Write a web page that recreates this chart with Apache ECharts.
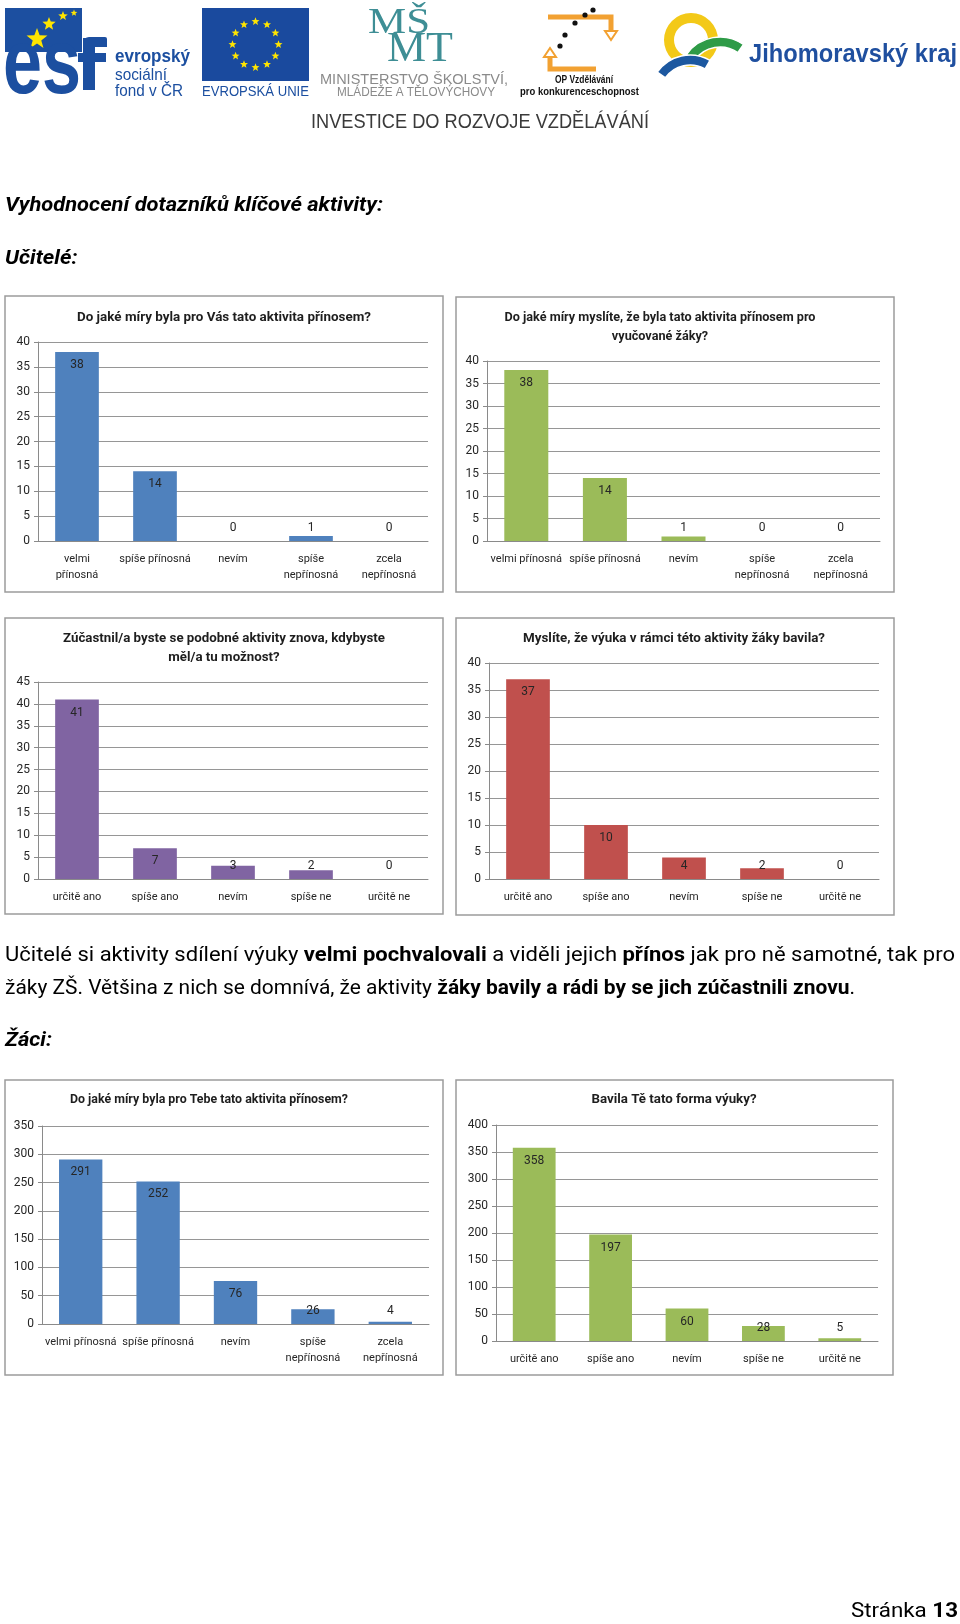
<!DOCTYPE html>
<html><head><meta charset="utf-8">
<script src="https://cdn.jsdelivr.net/npm/echarts@6.0.0/dist/echarts.min.js"></script>
<style>html,body{margin:0;padding:0;background:#fff}#c{width:960px;height:1624px}</style>
</head><body><div id="c"></div><script>
// ---------- DATA ----------
const catsRate1 = ['velmi\npřínosná', 'spíše přínosná', 'nevím', 'spíše\nnepřínosná', 'zcela\nnepřínosná'];
const catsRate2 = ['velmi přínosná', 'spíše přínosná', 'nevím', 'spíše\nnepřínosná', 'zcela\nnepřínosná'];
const catsYesNo = ['určitě ano', 'spíše ano', 'nevím', 'spíše ne', 'určitě ne'];

const valsTeacherBenefit = [38, 14, 0, 1, 0];
const valsTeacherPupils = [38, 14, 1, 0, 0];
const valsTeacherAgain = [41, 7, 3, 2, 0];
const valsTeacherFun = [37, 10, 4, 2, 0];
const valsPupilBenefit = [291, 252, 76, 26, 4];
const valsPupilFun = [358, 197, 60, 28, 5];

const titleTeacherBenefit = ['Do jaké míry byla pro Vás tato aktivita přínosem?'];
const titleTeacherPupils = ['Do jaké míry myslíte, že byla tato aktivita přínosem pro', 'vyučované žáky?'];
const titleTeacherAgain = ['Zúčastnil/a byste se podobné aktivity znova, kdybyste', 'měl/a tu možnost?'];
const titleTeacherFun = ['Myslíte, že výuka v rámci této aktivity žáky bavila?'];
const titlePupilBenefit = ['Do jaké míry byla pro Tebe tato aktivita přínosem?'];
const titlePupilFun = ['Bavila Tě tato forma výuky?'];

const axisMax = [40, 40, 45, 40, 350, 400];
const axisStep = [5, 5, 5, 5, 50, 50];

// ---------- HELPERS ----------
const FAM = 'Roboto';
const ctx = document.createElement('canvas').getContext('2d');
function mw(text, size, weight, style, family) {
  ctx.font = (style || 'normal') + ' ' + (weight || 'normal') + ' ' + size + 'px "' + family + '"';
  return ctx.measureText(text).width;
}
function fit(text, x, y, o) {
  const fam = o.family || FAM;
  const w = mw(text, o.size, o.weight, o.style, fam);
  const s = o.scale != null ? o.scale : (o.target ? o.target / w : 1);
  return { el: { type: 'text', x: x, y: y, scaleX: s, silent: true, z: 10,
    style: { text: text, fontSize: o.size, fontWeight: o.weight || 'normal', fontStyle: o.style || 'normal',
      fontFamily: fam, fill: o.fill || '#000', align: o.align || 'left', verticalAlign: 'middle' } }, s: s };
}
function richLine(segs, x0, y, o) {
  let pen = 0; const ch = [];
  segs.forEach(function (sg) {
    const t = sg[0], b = sg[1];
    const w = mw(t, o.size, b ? 'bold' : 'normal', o.style, o.family);
    ch.push({ type: 'text', x: pen, y: 0, silent: true,
      style: { text: t, fontSize: o.size, fontWeight: b ? 'bold' : 'normal', fontStyle: o.style || 'normal',
        fontFamily: o.family, fill: o.fill || '#000', align: 'left', verticalAlign: 'middle' } });
    pen += w;
  });
  const s = o.target ? o.target / pen : (o.scale || 1);
  const gx = o.alignRight ? x0 - pen * s : x0;
  return { el: { type: 'group', x: gx, y: y, scaleX: s, z: 10, children: ch }, s: s };
}
function star(cx, cy, R, r) {
  const p = [];
  for (let i = 0; i < 10; i++) {
    const a = -Math.PI / 2 + i * Math.PI / 5, rr = i % 2 ? r : R;
    p.push([cx + rr * Math.cos(a), cy + rr * Math.sin(a)]);
  }
  return { type: 'polygon', silent: true, shape: { points: p }, style: { fill: '#ffe500' } };
}

// ---------- LAYOUT ----------
const charts = [
  { cats: catsRate1, vals: valsTeacherBenefit, title: titleTeacherBenefit, color: '#4F81BD',
    grid: { left: 38, top: 342, width: 390, height: 199 }, box: [5, 296, 438, 296], tx: 224, ty: 317, tw: 294 },
  { cats: catsRate2, vals: valsTeacherPupils, title: titleTeacherPupils, color: '#9BBB59',
    grid: { left: 487, top: 361, width: 393, height: 180 }, box: [456, 297, 438, 295], tx: 660, ty: 317, tw: 311 },
  { cats: catsYesNo, vals: valsTeacherAgain, title: titleTeacherAgain, color: '#8064A2',
    grid: { left: 38, top: 682, width: 390, height: 197 }, box: [5, 618, 438, 296], tx: 224, ty: 638, tw: 322 },
  { cats: catsYesNo, vals: valsTeacherFun, title: titleTeacherFun, color: '#C0504D',
    grid: { left: 489, top: 663, width: 390, height: 216 }, box: [456, 618, 438, 297], tx: 674, ty: 638, tw: 302 },
  { cats: catsRate2, vals: valsPupilBenefit, title: titlePupilBenefit, color: '#4F81BD',
    grid: { left: 42, top: 1126, width: 387, height: 198 }, box: [5, 1080, 438, 295], tx: 209, ty: 1099, tw: 278 },
  { cats: catsYesNo, vals: valsPupilFun, title: titlePupilFun, color: '#9BBB59',
    grid: { left: 496, top: 1125, width: 382, height: 216 }, box: [456, 1080, 437, 295], tx: 674, ty: 1099, tw: 165 }
];

const grids = [], xAxes = [], yAxes = [], series = [], graphics = [];
const txt = '#262626';
charts.forEach(function (c, i) {
  grids.push(Object.assign({ containLabel: false }, c.grid));
  xAxes.push({ type: 'category', gridIndex: i, data: c.cats,
    axisLine: { lineStyle: { color: '#8a8a8a', width: 1 } }, axisTick: { show: false },
    axisLabel: { interval: 0, fontSize: 11, fontFamily: FAM, color: txt, margin: 10, lineHeight: 16 } });
  yAxes.push({ type: 'value', gridIndex: i, min: 0, max: axisMax[i], interval: axisStep[i],
    axisLine: { show: true, lineStyle: { color: '#8a8a8a', width: 1 } },
    axisTick: { show: true, length: 4, lineStyle: { color: '#8a8a8a' } },
    axisLabel: { fontSize: 12, fontFamily: FAM, color: txt, margin: 8 },
    splitLine: { lineStyle: { color: '#969696', width: 1 } } });
  const gh = c.grid.height, mx = axisMax[i];
  series.push({ type: 'bar', xAxisIndex: i, yAxisIndex: i, barWidth: '56%',
    itemStyle: { color: c.color },
    label: { show: true, fontSize: 12, fontFamily: FAM, color: txt },
    data: c.vals.map(function (v) {
      const tall = v / mx * gh >= 28;
      return { value: v, label: tall ? { position: 'insideTop', distance: 7 } : { position: 'insideBottom', distance: 7 } };
    }) });
  graphics.push({ type: 'rect', silent: true, shape: { x: c.box[0], y: c.box[1], width: c.box[2], height: c.box[3] },
    style: { fill: 'none', stroke: '#9c9c9c', lineWidth: 1.5 } });
  const t1 = fit(c.title[0], c.tx, c.ty + 1, { size: 13, weight: 'bold', target: c.tw, align: 'center', fill: '#1e1e1e' });
  graphics.push(t1.el);
  if (c.title[1]) graphics.push(fit(c.title[1], c.tx, c.ty + 20, { size: 13, weight: 'bold', scale: t1.s, align: 'center', fill: '#1e1e1e' }).el);
});

// ---------- HEADER LOGOS ----------
const esfBlue = '#1c4fa0';
graphics.push({ type: 'rect', silent: true, shape: { x: 5, y: 8, width: 77, height: 44 }, style: { fill: esfBlue } });
graphics.push(fit('es', 3, 68, { size: 92, weight: 'bold', family: 'Liberation Sans', target: 78, fill: esfBlue }).el);
graphics.push({ type: 'rect', silent: true, shape: { x: 83, y: 38, width: 12, height: 52 }, style: { fill: esfBlue } });
graphics.push({ type: 'rect', silent: true, shape: { x: 83, y: 37, width: 24, height: 10, r: [6, 2, 0, 0] }, style: { fill: esfBlue } });
graphics.push({ type: 'rect', silent: true, shape: { x: 78, y: 53, width: 28, height: 9 }, style: { fill: esfBlue } });
graphics.push(star(37, 39, 11, 4.5), star(49, 24, 7, 3), star(63, 16, 5, 2.1), star(74, 13, 3.5, 1.5));
graphics.push(fit('evropský', 115, 57, { size: 18, weight: 'bold', family: 'Liberation Sans', target: 75, fill: esfBlue }).el);
graphics.push(fit('sociální', 115, 75, { size: 17, family: 'Liberation Sans', target: 52, fill: esfBlue }).el);
graphics.push(fit('fond v ČR', 115, 91, { size: 17, family: 'Liberation Sans', target: 68, fill: esfBlue }).el);
// EU flag
graphics.push({ type: 'rect', silent: true, shape: { x: 202, y: 8, width: 107, height: 73 }, style: { fill: '#1a4a9e' } });
for (let k = 0; k < 12; k++) {
  const a = k * Math.PI / 6;
  graphics.push(star(255.5 + 23 * Math.cos(a), 44.5 + 23 * Math.sin(a), 4.2, 1.8));
}
graphics.push(fit('EVROPSKÁ UNIE', 202, 92, { size: 14, family: 'Liberation Sans', target: 107, fill: esfBlue }).el);
// MSMT
const teal = '#3e8e95';
graphics.push(fit('MŠ', 368, 24, { size: 36, family: 'Liberation Serif', target: 62, fill: teal }).el);
graphics.push(fit('MT', 387, 50, { size: 42, family: 'Liberation Serif', target: 66, fill: teal }).el);
graphics.push(fit('MINISTERSTVO ŠKOLSTVÍ,', 320, 80, { size: 14, family: 'Liberation Sans', target: 188, fill: '#8a8a8a' }).el);
graphics.push(fit('MLÁDEŽE A TĚLOVÝCHOVY', 337, 93, { size: 12, family: 'Liberation Sans', target: 158, fill: '#8a8a8a' }).el);
// OP logo
const orange = '#f2a132';
graphics.push({ type: 'polyline', silent: true, shape: { points: [[548, 17], [611, 17], [611, 31]] }, style: { stroke: orange, lineWidth: 5, fill: 'none' } });
graphics.push({ type: 'polygon', silent: true, shape: { points: [[605, 31], [617, 31], [611, 40]] }, style: { stroke: orange, lineWidth: 2, fill: '#fff' } });
graphics.push({ type: 'polyline', silent: true, shape: { points: [[550, 57], [550, 69], [596, 69]] }, style: { stroke: orange, lineWidth: 5, fill: 'none' } });
graphics.push({ type: 'polygon', silent: true, shape: { points: [[544, 57], [556, 57], [550, 48]] }, style: { stroke: orange, lineWidth: 2, fill: '#fff' } });
[[560, 46], [565, 35], [575, 23], [585, 15], [593, 10]].forEach(function (p) {
  graphics.push({ type: 'circle', silent: true, shape: { cx: p[0], cy: p[1], r: 2.6 }, style: { fill: '#111' } });
});
graphics.push(fit('OP Vzdělávání', 555, 80, { size: 11, weight: 'bold', family: 'Liberation Sans', target: 58, fill: '#111' }).el);
graphics.push(fit('pro konkurenceschopnost', 520, 92, { size: 11, weight: 'bold', family: 'Liberation Sans', target: 119, fill: '#111' }).el);
// Jihomoravsky kraj
graphics.push({ type: 'ring', silent: true, shape: { cx: 691, cy: 40, r: 27, r0: 17 }, style: { fill: '#f3c918' } });
graphics.push({ type: 'sector', silent: true, shape: { cx: 720, cy: 78, r: 41, r0: 31, startAngle: 215 * Math.PI / 180, endAngle: 305 * Math.PI / 180, clockwise: true }, style: { fill: '#2e9b47', stroke: '#fff', lineWidth: 1.5 } });
graphics.push({ type: 'sector', silent: true, shape: { cx: 690, cy: 95, r: 40, r0: 30, startAngle: 215 * Math.PI / 180, endAngle: 300 * Math.PI / 180, clockwise: true }, style: { fill: '#1c58a0', stroke: '#fff', lineWidth: 1.5 } });
graphics.push(fit('Jihomoravský kraj', 749, 55, { size: 25, weight: 'bold', family: 'Liberation Sans', target: 208, fill: '#1f4f9f' }).el);
graphics.push(fit('INVESTICE DO ROZVOJE VZDĚLÁVÁNÍ', 311, 122, { size: 21, family: 'Liberation Sans', target: 338, fill: '#3a3a3a' }).el);

// ---------- BODY TEXT ----------
const bodyFam = FAM;
const h1 = fit('Vyhodnocení dotazníků klíčové aktivity:', 5, 206, { size: 20, weight: 'bold', style: 'italic', target: 378, family: bodyFam });
graphics.push(h1.el);
graphics.push(fit('Učitelé:', 5, 259, { size: 20, weight: 'bold', style: 'italic', scale: h1.s, family: bodyFam }).el);
graphics.push(fit('Žáci:', 5, 1041, { size: 20, weight: 'bold', style: 'italic', scale: h1.s, family: bodyFam }).el);
graphics.push(richLine([['Učitelé si aktivity sdílení výuky ', 0], ['velmi pochvalovali', 1], [' a viděli jejich ', 0], ['přínos', 1], [' jak pro ně samotné, tak pro', 0]],
  5, 956, { size: 20, family: bodyFam, target: 950 }).el);
graphics.push(richLine([['žáky ZŠ. Většina z nich se domnívá, že aktivity ', 0], ['žáky bavily a rádi by se jich zúčastnili znovu', 1], ['.', 0]],
  5, 989, { size: 20, family: bodyFam, target: 850 }).el);
graphics.push(richLine([['Stránka ', 0], ['13', 1]], 958, 1612, { size: 21, family: bodyFam, target: 107, alignRight: true }).el);

const chart = echarts.init(document.getElementById('c'), null, { renderer: 'canvas' });
chart.setOption({
  animation: false,
  backgroundColor: '#ffffff',
  grid: grids, xAxis: xAxes, yAxis: yAxes, series: series,
  graphic: { elements: graphics }
});
</script></body></html>
